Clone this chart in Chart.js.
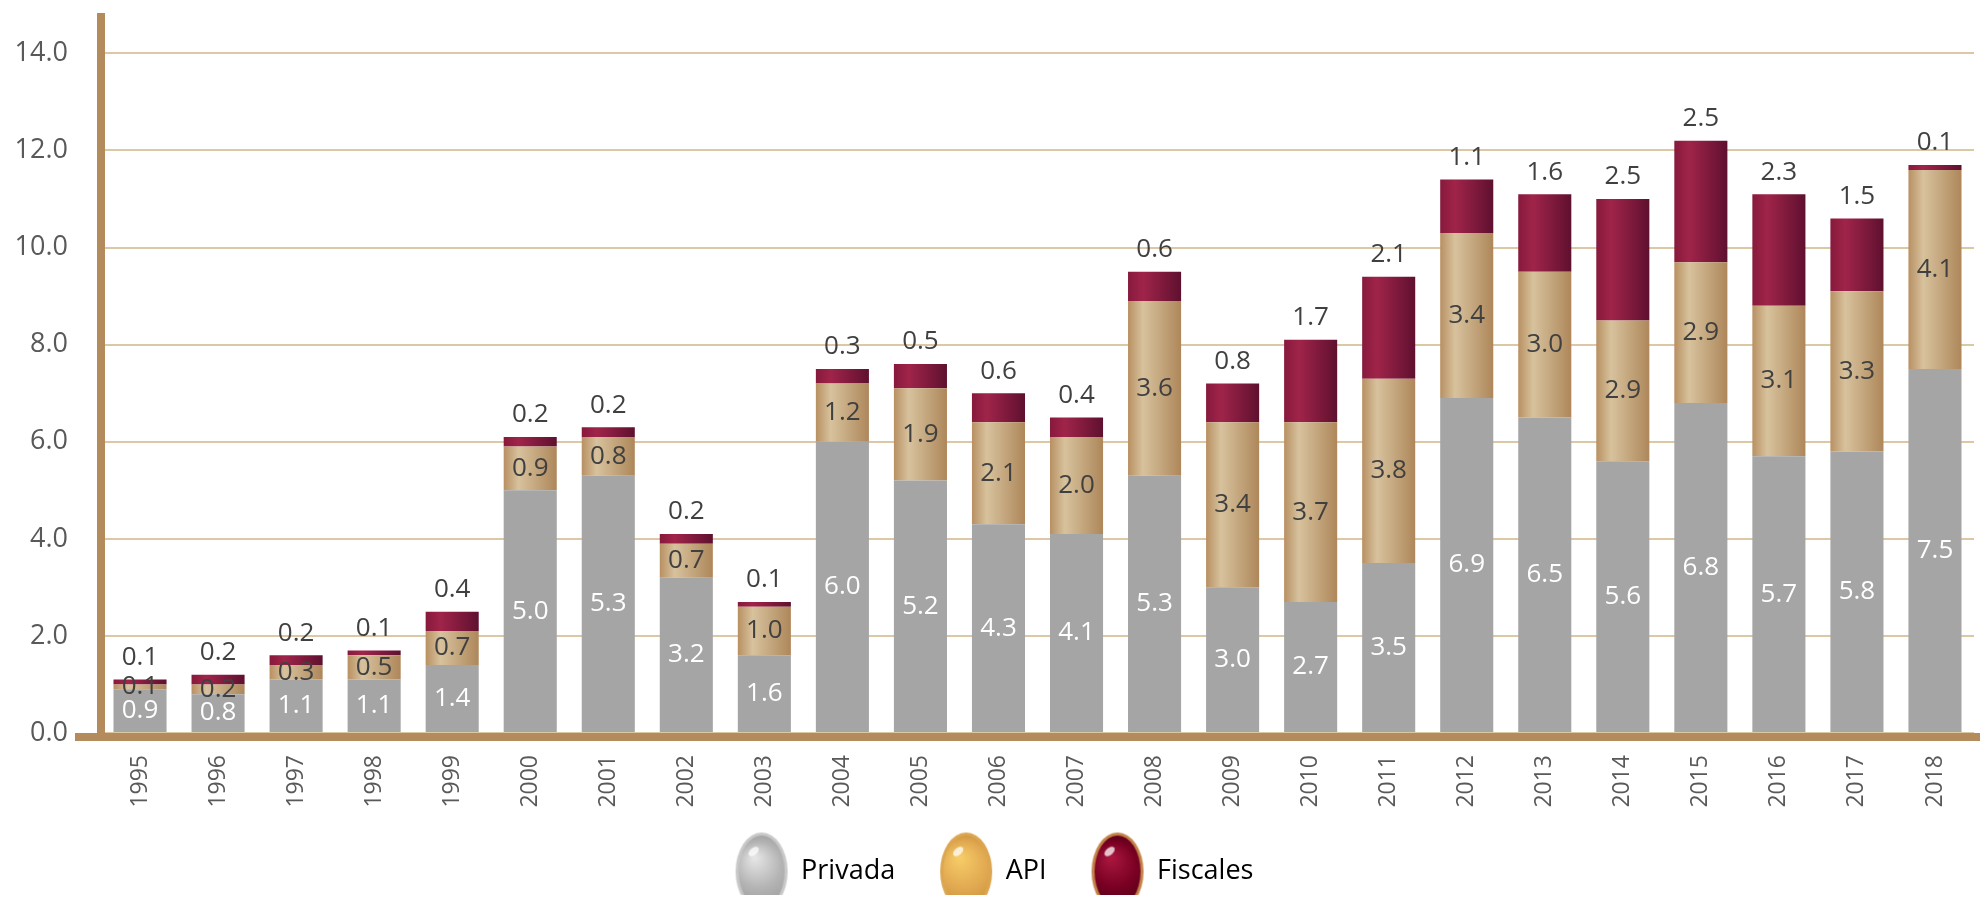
<!DOCTYPE html>
<html>
<head>
<meta charset="utf-8">
<title>Inversión por fuente</title>
<script src="https://cdn.jsdelivr.net/npm/chart.js@4.4.0/dist/chart.umd.min.js"></script>
<style>
  html, body { margin: 0; padding: 0; background: #ffffff; }
  #contenedor { width: 1980px; height: 902px; position: relative; }
</style>
</head>
<body>
<div id="contenedor"><canvas id="grafica"></canvas></div>
<script>
// Datos
var anios = ['1995', '1996', '1997', '1998', '1999', '2000', '2001', '2002', '2003', '2004', '2005', '2006',
             '2007', '2008', '2009', '2010', '2011', '2012', '2013', '2014', '2015', '2016', '2017', '2018'];
var privada  = [0.9, 0.8, 1.1, 1.1, 1.4, 5.0, 5.3, 3.2, 1.6, 6.0, 5.2, 4.3, 4.1, 5.3, 3.0, 2.7, 3.5, 6.9, 6.5, 5.6, 6.8, 5.7, 5.8, 7.5];
var api      = [0.1, 0.2, 0.3, 0.5, 0.7, 0.9, 0.8, 0.7, 1.0, 1.2, 1.9, 2.1, 2.0, 3.6, 3.4, 3.7, 3.8, 3.4, 3.0, 2.9, 2.9, 3.1, 3.3, 4.1];
var fiscales = [0.1, 0.2, 0.2, 0.1, 0.4, 0.2, 0.2, 0.2, 0.1, 0.3, 0.5, 0.6, 0.4, 0.6, 0.8, 1.7, 2.1, 1.1, 1.6, 2.5, 2.5, 2.3, 1.5, 0.1];
var series = ['Privada', 'API', 'Fiscales'];

var colorEje = '#b38b5c';
var colorTexto = '#595959';
var fuente = '"Open Sans", "DejaVu Sans", sans-serif';
var anchoBarra = 0.68;

// degradado horizontal para cada barra
function degradado(paradas, solido) {
    return function (c) {
        var chart = c.chart, area = chart.chartArea;
        if (!area || c.dataIndex === undefined) return solido;
        var x = chart.scales.x.getPixelForValue(c.dataIndex);
        var medio = (area.right - area.left) / anios.length * anchoBarra / 2;
        var g = chart.ctx.createLinearGradient(x - medio, 0, x + medio, 0);
        paradas.forEach(function (p) { g.addColorStop(p[0], p[1]); });
        return g;
    };
}

// iconos ovalados de la leyenda
function icono(borde, claro, base, oscuro) {
    var c = document.createElement('canvas');
    c.width = 54; c.height = 80;
    var g = c.getContext('2d');
    g.beginPath();
    g.ellipse(27, 40, 26, 39, 0, 0, Math.PI * 2);
    g.fillStyle = borde;
    g.fill();
    var r = g.createRadialGradient(20, 26, 2, 27, 40, 40);
    r.addColorStop(0, claro);
    r.addColorStop(0.55, base);
    r.addColorStop(1, oscuro);
    g.beginPath();
    g.ellipse(27, 40, 23, 36, 0, 0, Math.PI * 2);
    g.fillStyle = r;
    g.fill();
    g.beginPath();
    g.ellipse(19, 20, 6, 3.5, -0.7, 0, Math.PI * 2);
    g.fillStyle = 'rgba(255,255,255,0.75)';
    g.fill();
    return c;
}
var iconos = [
    icono('#c8c8c8', '#e4e4e4', '#b4b4b4', '#9a9a9a'),
    icono('#dca650', '#f6cc66', '#e2aa52', '#c98f3c'),
    icono('#c48248', '#a8163e', '#780022', '#4c0014')
];

// eje X grueso que sobresale a la izquierda
var ejeX = {
    id: 'ejeX',
    afterDatasetsDraw: function (chart) {
        var a = chart.chartArea, ctx = chart.ctx;
        ctx.save();
        ctx.fillStyle = colorEje;
        ctx.fillRect(a.left - 26, a.bottom, chart.width - a.left + 26, 8);
        ctx.restore();
    }
};

// etiquetas de valores
var etiquetas = {
    id: 'etiquetas',
    afterDatasetsDraw: function (chart) {
        var ctx = chart.ctx;
        ctx.save();
        ctx.font = '26px ' + fuente;
        ctx.textAlign = 'center';
        ctx.textBaseline = 'middle';
        chart.data.datasets.forEach(function (ds, i) {
            chart.getDatasetMeta(i).data.forEach(function (bar, j) {
                var y = i === 2 ? bar.y - 22 : (bar.y + bar.base) / 2;
                ctx.fillStyle = i === 0 ? '#ffffff' : '#404040';
                ctx.fillText(ds.data[j].toFixed(1), bar.x, y);
            });
        });
        ctx.restore();
    }
};

var ctx = document.getElementById('grafica').getContext('2d');
var grafica = new Chart(ctx, {
    type: 'bar',
    data: {
        labels: anios,
        datasets: [{
            label: series[0],
            data: privada,
            backgroundColor: '#a5a5a5'
        }, {
            label: series[1],
            data: api,
            backgroundColor: degradado([[0, '#b89062'], [0.28, '#d7c29d'], [1, '#ae875a']], '#c9a97c')
        }, {
            label: series[2],
            data: fiscales,
            backgroundColor: degradado([[0, '#861a3c'], [0.28, '#a0244a'], [1, '#5f102f']], '#861a3c')
        }]
    },
    options: {
        responsive: true,
        maintainAspectRatio: false,
        animation: false,
        devicePixelRatio: 1,
        categoryPercentage: 1,
        barPercentage: anchoBarra,
        layout: { padding: { left: 15, right: 6, top: 17, bottom: 7 } },
        scales: {
            x: {
                stacked: true,
                grid: { display: false, drawTicks: false },
                border: { display: false },
                ticks: {
                    minRotation: 90,
                    maxRotation: 90,
                    padding: 22,
                    color: colorTexto,
                    font: { family: fuente, size: 23 }
                },
                afterFit: function (s) {
                    s.paddingLeft = 0;
                    s.paddingRight = 0;
                    s.height = 80;
                }
            },
            y: {
                stacked: true,
                min: 0,
                max: 14.75,
                grid: { color: '#dcc8a4', lineWidth: 2, drawTicks: false },
                border: { color: colorEje, width: 8 },
                ticks: {
                    stepSize: 2,
                    includeBounds: false,
                    padding: 33,
                    color: colorTexto,
                    font: { family: fuente, size: 27 },
                    callback: function (v) { return v.toFixed(1); }
                },
                afterFit: function (s) {
                    s.paddingTop = 0;
                    s.paddingBottom = 0;
                    s.width = 86;
                }
            }
        },
        plugins: {
            legend: {
                position: 'bottom',
                labels: {
                    usePointStyle: true,
                    pointStyleWidth: 52,
                    padding: 45,
                    color: colorTexto,
                    font: { family: fuente, size: 27 },
                    generateLabels: function (chart) {
                        return chart.data.datasets.map(function (ds, i) {
                            return {
                                text: ds.label,
                                pointStyle: iconos[i],
                                fillStyle: 'rgba(0,0,0,0)',
                                strokeStyle: 'rgba(0,0,0,0)',
                                lineWidth: 0,
                                hidden: false,
                                datasetIndex: i
                            };
                        });
                    }
                }
            },
            tooltip: { enabled: false }
        }
    },
    plugins: [ejeX, etiquetas]
});
</script>
</body>
</html>
